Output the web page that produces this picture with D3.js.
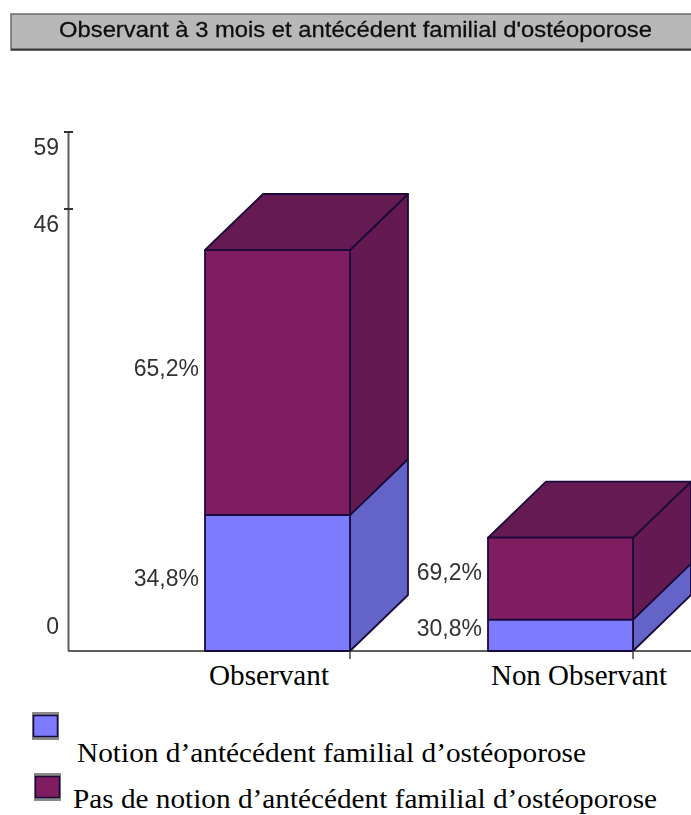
<!DOCTYPE html>
<html><head><meta charset="utf-8">
<script src="https://cdn.jsdelivr.net/npm/d3@7"></script>
<style>html,body{margin:0;padding:0;background:#fff;overflow:hidden}svg{display:block}</style>
</head><body><svg id="c" width="691" height="815"></svg>
<script>
const title = "Observant à 3 mois et antécédent familial d'ostéoporose";
const categories = ["Observant", "Non Observant"];
const withHistory = [15.6, 3.6];
const withoutHistory = [30.4, 9.4];
const withHistoryLabels = ["34,8%", "30,8%"];
const withoutHistoryLabels = ["65,2%", "69,2%"];
const axisTicks = [0, 46, 59];
const legendLabels = ["Notion d’antécédent familial d’ostéoporose", "Pas de notion d’antécédent familial d’ostéoporose"];

const svg = d3.select("#c");
const W = 691;
const defs = svg.append("defs");
const blur = defs.append("filter").attr("id","soft").attr("x","-5%").attr("y","-20%").attr("width","110%").attr("height","140%");
blur.append("feGaussianBlur").attr("stdDeviation",0.6);

// scales
const y = d3.scaleLinear().domain([0,46]).range([651,250]);            // front face of bars
const axisY = d3.scaleLinear().domain([0,46,59]).range([651,209,132]); // the printed axis is not linear
const x = d3.scaleOrdinal().domain(categories).range([205,488]);
const barW = 145, dx = 58, dy = -56;

// title bar
svg.append("rect").attr("x",11).attr("y",14).attr("width",W).attr("height",36).attr("fill","#b8b8b8").attr("stroke","#6a6a6a").attr("stroke-width",1.5);
svg.append("line").attr("x1",11).attr("x2",W).attr("y1",49.5).attr("y2",49.5).attr("stroke","#3c3c3c").attr("stroke-width",2);
svg.append("text").attr("x",59).attr("y",37).attr("font-family","Liberation Sans").attr("font-size",22).attr("textLength",593).attr("lengthAdjust","spacingAndGlyphs")
  .attr("fill","#111").attr("stroke","#111").attr("stroke-width",0.3).attr("filter","url(#soft)").text(title);

// axes
const ax = svg.append("g").attr("stroke","#5e5e5e").attr("stroke-width",2);
ax.append("line").attr("x1",68.5).attr("x2",68.5).attr("y1",132).attr("y2",651);
ax.append("line").attr("x1",68).attr("x2",W).attr("y1",651).attr("y2",651);
ax.selectAll(".t").data(axisTicks.filter(d=>d>0)).join("line").attr("x1",64).attr("x2",73).attr("y1",d=>axisY(d)).attr("y2",d=>axisY(d)).attr("stroke","#333");

const labelStyle = s => s.attr("font-family","Liberation Sans").attr("font-size",23).attr("fill","#333").attr("filter","url(#soft)");
svg.selectAll(".tl").data(axisTicks).join("text").attr("x",59).attr("text-anchor","end")
  .attr("y",d=> d===0 ? axisY(d)-17 : axisY(d)+23)
  .call(labelStyle).text(d=>d);

// bars
const colors = {
  blue:{front:"#7d7bff",side:"#6464c8"},
  purple:{front:"#801c60",side:"#641a50",top:"#661a52"}
};
const edge = "#1b0b3c";
function poly(pts,fill){ return svg.append("polygon").attr("points",pts.map(p=>p.join(",")).join(" ")).attr("fill",fill).attr("stroke",edge).attr("stroke-width",1.8).attr("stroke-linejoin","round"); }
categories.forEach((c,i)=>{
  const x0 = x(c), x1 = x0+barW;
  const y0 = y(0), ya = y(withHistory[i]), yb = y(withHistory[i]+withoutHistory[i]);
  poly([[x1,y0],[x1+dx,y0+dy],[x1+dx,ya+dy],[x1,ya]],colors.blue.side);
  poly([[x1,ya],[x1+dx,ya+dy],[x1+dx,yb+dy],[x1,yb]],colors.purple.side);
  poly([[x0,yb],[x0+dx,yb+dy],[x1+dx,yb+dy],[x1,yb]],colors.purple.top);
  poly([[x0,ya],[x1,ya],[x1,y0],[x0,y0]],colors.blue.front);
  poly([[x0,yb],[x1,yb],[x1,ya],[x0,ya]],colors.purple.front);
  svg.append("line").attr("x1",x1).attr("x2",x1).attr("y1",y0).attr("y2",y0+8).attr("stroke","#444").attr("stroke-width",1.5);
  const lab = (t,ty)=>svg.append("text").attr("x",x0-6).attr("y",ty).attr("text-anchor","end").call(labelStyle).text(t);
  lab(withoutHistoryLabels[i], i===0 ? 376 : 580);
  lab(withHistoryLabels[i], i===0 ? 586 : 636);
  svg.append("text").attr("x",x0 + (i===0?4:3)).attr("y",685).attr("font-family","Liberation Serif").attr("font-size",28.5)
    .attr("textLength",i===0?120:176).attr("lengthAdjust","spacingAndGlyphs").attr("fill","#000").text(c);
});

// legend
const swatches = [[32,712,colors.blue.front],[34,773,colors.purple.front]];
swatches.forEach(s=>{
  svg.append("rect").attr("x",s[0]).attr("y",s[1]).attr("width",27).attr("height",28).attr("fill","#8a8a8a");
  svg.append("rect").attr("x",s[0]+1.5).attr("y",s[1]+3.5).attr("width",24).attr("height",21).attr("fill",s[2]).attr("stroke",edge).attr("stroke-width",1.5);
});
const legendPos=[[77,762,509],[73,808,584]];
legendLabels.forEach((t,i)=>svg.append("text").attr("x",legendPos[i][0]).attr("y",legendPos[i][1]).attr("font-family","Liberation Serif").attr("font-size",27.5).attr("textLength",legendPos[i][2]).attr("lengthAdjust","spacingAndGlyphs").attr("fill","#000").text(t));
</script></body></html>
